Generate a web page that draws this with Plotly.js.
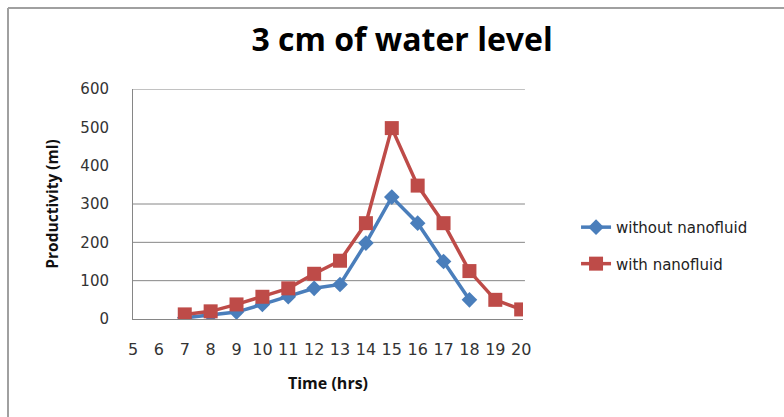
<!DOCTYPE html>
<html>
<head>
<meta charset="utf-8">
<script src="https://cdn.plot.ly/plotly-3.0.1.min.js"></script>
<style>html,body{margin:0;padding:0;background:#fff;}#chart{width:784px;height:417px;}</style>
</head>
<body>
<div id="chart"></div>
<script>
var hoursWithout = [7, 8, 9, 10, 11, 12, 13, 14, 15, 16, 17, 18];
var without = [3, 10, 18, 38, 58, 80, 90, 198, 318, 250, 150, 50];
var hoursWith = [7, 8, 9, 10, 11, 12, 13, 14, 15, 16, 17, 18, 19, 20];
var withNano = [12, 20, 38, 58, 80, 118, 152, 250, 498, 348, 250, 125, 50, 25];
var xTicks = [5, 6, 7, 8, 9, 10, 11, 12, 13, 14, 15, 16, 17, 18, 19, 20];
var yTicks = [0, 100, 200, 300, 400, 500, 600];
var gridLevels = [100, 200, 300, 600];

var blue = '#4A7EBB', red = '#BE4B48';
var traces = [
  {x: hoursWithout, y: without, name: 'without nanofluid', mode: 'lines+markers', legendgroup: 'a',
   line: {color: blue, width: 3.5}, marker: {symbol: 'diamond', size: 12, color: blue}},
  {x: hoursWith, y: withNano, name: 'with nanofluid', mode: 'lines+markers', legendgroup: 'b',
   line: {color: red, width: 3.5}, marker: {symbol: 'square', size: 14, color: red}}
];

var shapes = gridLevels.map(function (v) {
  return {type: 'line', xref: 'paper', yref: 'y', x0: 0, x1: 1.005, y0: v, y1: v,
          line: {color: '#868686', width: 1}, layer: 'below'};
});
shapes.push({type: 'line', xref: 'paper', yref: 'paper', x0: -0.3205, x1: -0.3205, y0: -0.5, y1: 1.352,
             line: {color: '#A0A0A0', width: 2}});
shapes.push({type: 'line', xref: 'paper', yref: 'paper', x0: -0.3205, x1: 2, y0: 1.352, y1: 1.352,
             line: {color: '#A0A0A0', width: 2}});

var layout = {
  width: 784, height: 417,
  margin: {l: 133, r: 261, t: 89, b: 98},
  paper_bgcolor: '#fff', plot_bgcolor: '#fff',
  font: {family: 'DejaVu Sans, sans-serif', color: '#222'},
  title: {text: '<b>3 cm of water level</b>', font: {size: 32, color: '#000', family: 'Open Sans, sans-serif'},
          x: 0.69, xref: 'paper', xanchor: 'center', y: 0.905, yanchor: 'middle'},
  xaxis: {range: [5, 20.07], tickvals: xTicks, ticktext: xTicks.map(String), showgrid: false, zeroline: false,
          showline: true, linecolor: '#868686', linewidth: 1, ticks: '', ticklabelstandoff: 16,
          tickfont: {size: 16, color: '#333', family: 'DejaVu Sans, sans-serif'},
          title: {text: '<b>Time (hrs)</b>', font: {size: 16, color: '#111', family: 'Open Sans, sans-serif'}, standoff: 19}},
  yaxis: {range: [0, 600], tickvals: yTicks, showgrid: false, zeroline: false,
          showline: true, linecolor: '#868686', linewidth: 1, ticks: '', ticklabelstandoff: 20,
          tickfont: {size: 15, color: '#333', family: 'DejaVu Sans, sans-serif'},
          title: {text: '<b>Productivity (ml)</b>', font: {size: 15.5, color: '#111', family: 'Open Sans, sans-serif'}, standoff: 17}},
  legend: {x: 1.136, y: 0.32, xanchor: 'left', yanchor: 'middle', traceorder: 'grouped', tracegroupgap: 14,
           font: {size: 15, color: '#222', family: 'DejaVu Sans, sans-serif'}, bgcolor: 'rgba(0,0,0,0)'},
  shapes: shapes
};
Plotly.newPlot('chart', traces, layout, {displayModeBar: false, staticPlot: true});
</script>
</body>
</html>
